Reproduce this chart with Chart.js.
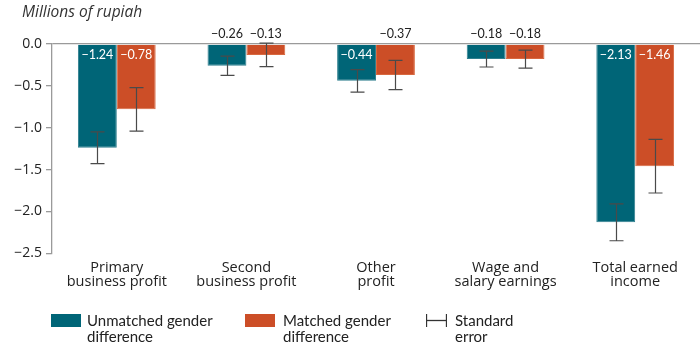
<!DOCTYPE html>
<html>
<head>
<meta charset="utf-8">
<script src="https://cdn.jsdelivr.net/npm/chart.js@4/dist/chart.umd.min.js"></script>
<style>
  html, body { margin: 0; padding: 0; background: #fff; }
  #wrap { position: relative; width: 700px; height: 361px; font-family: Lato, "Open Sans", sans-serif; color: #222; }
  #c { position: absolute; left: 0; top: 0; }
  #title { position: absolute; left: 22px; top: 0px; font-family: "Open Sans", sans-serif; font-style: italic; font-size: 15.5px; color: #333; }
  .lg { position: absolute; top: 312px; font-size: 15px; line-height: 16px; color: #222; }
  .box { position: absolute; top: 314px; width: 30px; height: 13px; }
  #se { position: absolute; left: 426px; top: 314px; width: 21px; height: 13px; }
</style>
</head>
<body>
<div id="wrap">
  <canvas id="c" width="700" height="361"></canvas>
  <div id="title">Millions of rupiah</div>
  <div class="box" style="left:51px;background:#006577"></div>
  <div class="lg" style="left:87px">Unmatched gender<br>difference</div>
  <div class="box" style="left:245px;background:#cc4e27"></div>
  <div class="lg" style="left:283px">Matched gender<br>difference</div>
  <svg id="se" width="21" height="13"><line x1="0.5" y1="0" x2="0.5" y2="13" stroke="#333" stroke-width="1.3"/><line x1="0" y1="6.5" x2="21" y2="6.5" stroke="#333" stroke-width="1.3"/><line x1="20.5" y1="0" x2="20.5" y2="13" stroke="#333" stroke-width="1.3"/></svg>
  <div class="lg" style="left:455px">Standard<br>error</div>
</div>
<script>
const categories = [["Primary","business profit"],["Second","business profit"],["Other","profit"],["Wage and","salary earnings"],["Total earned","income"]];
const unmatched = [-1.24, -0.26, -0.44, -0.18, -2.13];
const matched = [-0.78, -0.13, -0.37, -0.18, -1.46];
const unmatchedSE = [0.19, 0.115, 0.135, 0.095, 0.22];
const matchedSE = [0.26, 0.14, 0.175, 0.107, 0.32];
const yTicks = [0, -0.5, -1.0, -1.5, -2.0, -2.5];

const FONT = 'Lato, "Open Sans", sans-serif';
const FONT2 = '"Open Sans", Lato, sans-serif';

const errorBars = {
  id: 'errorBars',
  afterDatasetsDraw(chart) {
    const ctx = chart.ctx;
    const y = chart.scales.y;
    ctx.save();
    chart.data.datasets.forEach((ds, di) => {
      const meta = chart.getDatasetMeta(di);
      meta.data.forEach((bar, i) => {
        const v = ds.data[i], e = ds.se[i];
        const x = Math.round(bar.x) + 0.5;
        const y1 = y.getPixelForValue(v + e), y2 = y.getPixelForValue(v - e);
        ctx.strokeStyle = '#4a4a4a';
        ctx.lineWidth = 1.2;
        ctx.beginPath();
        ctx.moveTo(x, y1); ctx.lineTo(x, y2);
        ctx.moveTo(x - 7, y1); ctx.lineTo(x + 7, y1);
        ctx.moveTo(x - 7, y2); ctx.lineTo(x + 7, y2);
        ctx.stroke();
      });
    });
    ctx.restore();
  }
};

const valueLabels = {
  id: 'valueLabels',
  afterDatasetsDraw(chart) {
    const ctx = chart.ctx;
    const y0 = chart.scales.y.getPixelForValue(0);
    ctx.save();
    ctx.font = '12.5px ' + FONT;
    ctx.textAlign = 'center';
    ctx.textBaseline = 'middle';
    chart.data.datasets.forEach((ds, di) => {
      const meta = chart.getDatasetMeta(di);
      meta.data.forEach((bar, i) => {
        const v = ds.data[i];
        const txt = '\u2212' + Math.abs(v).toFixed(2);
        if (Math.abs(v) > 0.4) {
          ctx.fillStyle = '#ffffff';
          ctx.fillText(txt, bar.x, y0 + 11);
        } else {
          ctx.fillStyle = '#222';
          ctx.fillText(txt, bar.x, y0 - 10);
        }
      });
    });
    ctx.restore();
  }
};

new Chart(document.getElementById('c'), {
  type: 'bar',
  data: {
    labels: categories,
    datasets: [
      { label: 'Unmatched gender difference', data: unmatched, se: unmatchedSE, backgroundColor: '#006577', borderColor: '#2f7f8e', borderWidth: 1, borderSkipped: 'start' },
      { label: 'Matched gender difference', data: matched, se: matchedSE, backgroundColor: '#cc4e27', borderColor: '#d8683f', borderWidth: 1, borderSkipped: 'start' }
    ]
  },
  options: {
    responsive: false,
    animation: false,
    events: [],
    layout: { padding: { top: 44, left: 0, right: 0, bottom: 0 } },
    datasets: { bar: { categoryPercentage: 0.6, barPercentage: 1.0 } },
    plugins: { legend: { display: false }, tooltip: { enabled: false } },
    scales: {
      x: {
        grid: { display: false, drawTicks: false },
        border: { display: false },
        ticks: { color: '#222', font: { family: FONT2, size: 14.5, lineHeight: 14 / 14.5 }, padding: 8, maxRotation: 0, autoSkip: false },
        afterFit(s) { s.height = 107.7; }
      },
      y: {
        min: -2.5, max: 0,
        afterBuildTicks(s) { s.ticks = yTicks.map(v => ({ value: v })); },
        afterFit(s) { s.width = 52; },
        grid: {
          drawOnChartArea: true,
          color: c => (c.tick && c.tick.value === 0) ? '#9a9a9a' : 'rgba(0,0,0,0)',
          tickColor: '#9a9a9a',
          tickLength: 6,
          lineWidth: 1.3
        },
        border: { display: true, color: '#9a9a9a', width: 1.3 },
        ticks: { color: '#222', font: { family: FONT2, size: 14 }, padding: 4, callback: v => (v === 0 ? '0.0' : '\u2212' + Math.abs(v).toFixed(1)) }
      }
    }
  },
  plugins: [errorBars, valueLabels]
});
</script>
</body>
</html>
